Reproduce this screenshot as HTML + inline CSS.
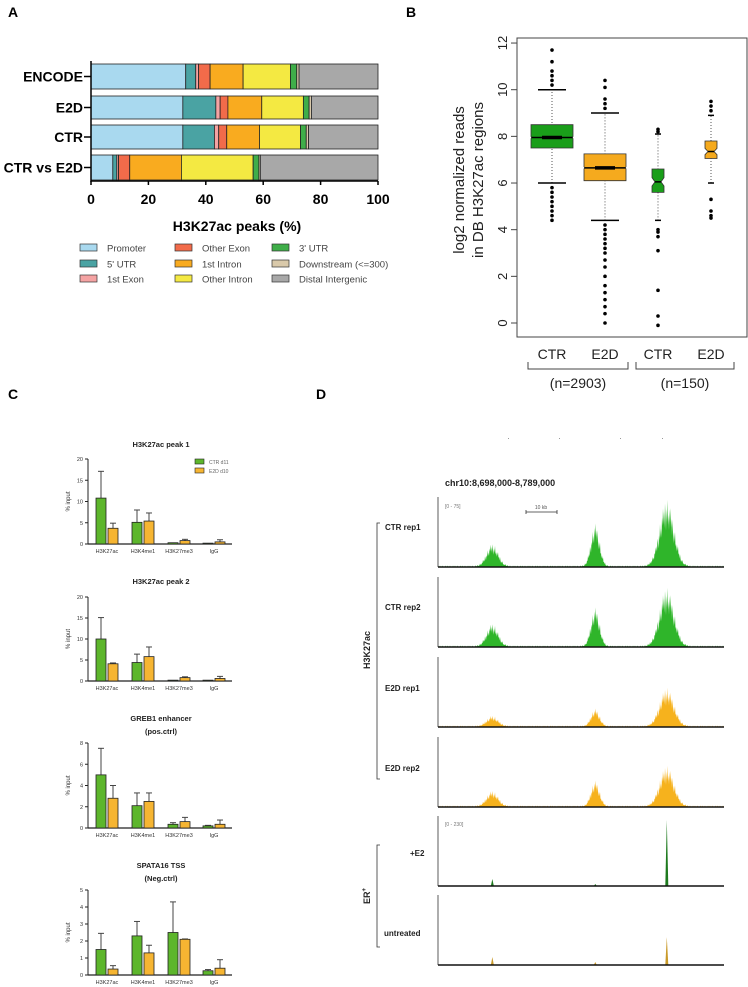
<!DOCTYPE html>
<html><head><meta charset="utf-8"><style>
body{margin:0;background:#fff;}
svg{display:block;font-family:"Liberation Sans",sans-serif;}
</style></head><body>
<svg id="fig" width="748" height="987" viewBox="0 0 748 987" xmlns="http://www.w3.org/2000/svg">
<g id="pa"></g>
<g id="pb"></g>
<g id="pc"></g>
<g id="pd"></g>
</svg>
<script>
// ---------- Panel A data ----------
const aCategories = ["ENCODE","E2D","CTR","CTR vs E2D"];
const aFeatures = ["Promoter","5' UTR","1st Exon","Other Exon","1st Intron","Other Intron","3' UTR","Downstream (<=300)","Distal Intergenic"];
const aEncode = [33,3.5,1,4,11.5,16.5,2.2,0.8,27.5];
const aE2D = [32,11.5,1.5,2.7,11.8,14.5,2,0.8,23.2];
const aCTR = [32,11,1.5,2.8,11.4,14.3,2,0.8,24.2];
const aCTRvsE2D = [7.6,1.4,0.6,3.9,18,25,2,0.5,41];
const aTicks = [0,20,40,60,80,100];
// ---------- Panel B data ----------
const bGroups = ["CTR","E2D","CTR","E2D"];
const bQ1 = [7.5,6.1,5.6,7.05];
const bMed = [7.95,6.65,6.05,7.35];
const bQ3 = [8.5,7.25,6.6,7.8];
const bWlo = [6,4.4,4.4,6];
const bWhi = [10,9,8.1,8.9];
const bOutliers = [
 [4.4,4.6,4.8,5.0,5.2,5.4,5.6,5.8,10.2,10.4,10.6,10.8,11.2,11.7],
 [0,0.4,0.7,1.0,1.3,1.6,2.0,2.4,2.7,3.0,3.2,3.4,3.6,3.8,4.0,4.2,9.2,9.4,9.6,10.1,10.4],
 [-0.1,0.3,1.4,3.1,3.7,3.9,4.0,8.2,8.3],
 [4.5,4.6,4.8,5.3,9.1,9.3,9.5]
];
const bTicks = [0,2,4,6,8,10,12];
// ---------- Panel C data ----------
const cTargets = ["H3K27ac","H3K4me1","H3K27me3","IgG"];
const cTitles = [["H3K27ac peak 1"],["H3K27ac peak 2"],["GREB1 enhancer","(pos.ctrl)"],["SPATA16 TSS","(Neg.ctrl)"]];
const cMax = [20,20,8,5];
const cStep = [5,5,2,1];
const cCtr = [[10.8,5.1,0.3,0.2],[10,4.4,0.2,0.2],[5,2.1,0.35,0.2],[1.5,2.3,2.5,0.25]];
const cCtrErr = [[17.1,8,0.3,0.2],[15.1,6.4,0.2,0.2],[7.5,3.3,0.5,0.25],[2.45,3.15,4.3,0.32]];
const cE2d = [[3.7,5.4,0.8,0.5],[4.1,5.8,0.8,0.6],[2.8,2.5,0.6,0.35],[0.35,1.3,2.1,0.4]];
const cE2dErr = [[4.9,7.3,1.1,1.0],[4.3,8.1,1.0,1.1],[4,3.3,1.0,0.75],[0.55,1.75,2.12,0.9]];
// ---------- Panel D data ----------
const dTracks = ["CTR rep1","CTR rep2","E2D rep1","E2D rep2","+E2","untreated"];
const dPeakPos = [0.19,0.55,0.80];
const dPeakH = [[22,42,66],[22,38,58],[10,17,38],[15,25,40],[7,2,66],[8,3,28]];
const dPeakW = [[8,6,10],[8,6,10],[8,6,10],[8,6,10],[1,1,1.2],[1,1,1.2]];

const NS="http://www.w3.org/2000/svg";
function mk(parent,tag,attrs,text){const e=document.createElementNS(NS,tag);for(const k in attrs)e.setAttribute(k,attrs[k]);if(text!==undefined)e.textContent=text;parent.appendChild(e);return e;}

// ===== Panel A =====
(function(){
const g=document.getElementById('pa');
const t=mk(g,'text',{x:8,y:17,'font-size':14,'font-weight':'bold'},'A');


const colors=["#a9d9ef","#4aa3a3","#f5a3a3","#f26b4a","#f9ab1f","#f4e942","#3fae49","#d9c9aa","#a8a8a8"];
const x=v=>91+v*2.87;
const rows=[aEncode,aE2D,aCTR,aCTRvsE2D];
const ys=[64,96,125,155], hs=[25,23,24,25];
rows.forEach((r,i)=>{
 let c=0;
 r.forEach((v,j)=>{
  const rc=mk(g,'rect',{x:x(c),y:ys[i],width:x(c+v)-x(c),height:hs[i],fill:colors[j],stroke:'#222','stroke-width':0.8});
  
  
  c+=v;
 });
 const lb=mk(g,'text',{x:83,y:ys[i]+hs[i]/2+5,'text-anchor':'end','font-size':14,'font-weight':'bold'},aCategories[i]);
 
 
 mk(g,'line',{x1:84,x2:91,y1:ys[i]+hs[i]/2,y2:ys[i]+hs[i]/2,stroke:'#000','stroke-width':1.5});
});
mk(g,'line',{x1:91,x2:91,y1:61,y2:182,stroke:'#000','stroke-width':1.5});
mk(g,'line',{x1:91,x2:378,y1:181,y2:181,stroke:'#000','stroke-width':1.5});
aTicks.forEach(v=>{
 mk(g,'line',{x1:x(v),x2:x(v),y1:181,y2:185,stroke:'#000','stroke-width':1.5});
 const tl=mk(g,'text',{x:x(v),y:204,'text-anchor':'middle','font-size':14,'font-weight':'bold'},v);
 
 
});
const xt=mk(g,'text',{x:237,y:231,'text-anchor':'middle','font-size':14,'font-weight':'bold'},'H3K27ac peaks (%)');


aFeatures.forEach((f,i)=>{
 const col=Math.floor(i/3),row=i%3;
 const lx=[80,175,272][col], ly=[248,264,279][row];
 const le=mk(g,'g',{});
 
 
 mk(le,'rect',{x:lx,y:ly-4,width:17,height:7,fill:colors[i],stroke:'#333','stroke-width':0.7});
 mk(le,'text',{x:lx+27,y:ly+3.5,'font-size':9.5,fill:'#444'},f);
});
})();

// ===== Panel B =====
(function(){
const g=document.getElementById('pb');
const t=mk(g,'text',{x:406,y:17,'font-size':14,'font-weight':'bold'},'B');


const y=v=>323-v*23.33;
const xs=[552,605,658,711], bw=[42,42,12,12];
mk(g,'rect',{x:517,y:38,width:230,height:299,fill:'none',stroke:'#444','stroke-width':1});
mk(g,'line',{x1:517,x2:517,y1:y(0),y2:y(12),stroke:'#444'});
bTicks.forEach(v=>{
 mk(g,'line',{x1:511,x2:517,y1:y(v),y2:y(v),stroke:'#444'});
 const tl=mk(g,'text',{transform:`translate(507,${y(v)}) rotate(-90)`,'text-anchor':'middle','font-size':13,fill:'#222'},v);
 
 
});
const yt=mk(g,'text',{transform:'translate(464,180) rotate(-90)','text-anchor':'middle','font-size':15,fill:'#222'});


mk(yt,'tspan',{x:0,dy:0},'log2 normalized reads');
mk(yt,'tspan',{x:0,dy:19},'in DB H3K27ac regions');
const cols=["#1a9e1a","#f5aa1e","#1a9e1a","#f5aa1e"];
bGroups.forEach((n,i)=>{
 const cx=xs[i];
 const bx=mk(g,'g',{});
 
 
 mk(bx,'line',{x1:cx,x2:cx,y1:y(bWlo[i]),y2:y(bWhi[i]),stroke:'#555','stroke-dasharray':'1,2'});
 const ww=i<2?28:6;
 mk(bx,'line',{x1:cx-ww/2,x2:cx+ww/2,y1:y(bWlo[i]),y2:y(bWlo[i]),stroke:'#000','stroke-width':1.5});
 mk(bx,'line',{x1:cx-ww/2,x2:cx+ww/2,y1:y(bWhi[i]),y2:y(bWhi[i]),stroke:'#000','stroke-width':1.5});
 const h=bw[i]/2, n2=i<2?h*0.97:h*0.5, nd=i<2?0.05:(bQ3[i]-bQ1[i])*0.18;
 const pts=[[cx-h,y(bQ3[i])],[cx+h,y(bQ3[i])],[cx+h,y(bMed[i]+nd)],[cx+n2,y(bMed[i])],[cx+h,y(bMed[i]-nd)],[cx+h,y(bQ1[i])],[cx-h,y(bQ1[i])],[cx-h,y(bMed[i]-nd)],[cx-n2,y(bMed[i])],[cx-h,y(bMed[i]+nd)]];
 mk(bx,'polygon',{points:pts.map(p=>p.join(',')).join(' '),fill:cols[i],stroke:'#333','stroke-width':0.8});
 mk(bx,'line',{x1:cx-n2,x2:cx+n2,y1:y(bMed[i]),y2:y(bMed[i]),stroke:'#000','stroke-width':1.5});
 if(i<2) mk(bx,'line',{x1:cx-10,x2:cx+10,y1:y(bMed[i]),y2:y(bMed[i]),stroke:'#000','stroke-width':3.5});
 bOutliers[i].forEach(v=>{
  const d=mk(bx,'circle',{cx:cx,cy:y(v),r:1.8,fill:'#000'});
  
  
 });
 const xl=mk(g,'text',{x:cx,y:359,'text-anchor':'middle','font-size':14,fill:'#222'},n);
 
 
});
[[528,628,'(n=2903)'],[636,734,'(n=150)']].forEach(b=>{
 mk(g,'path',{d:`M${b[0]},362 V369 H${b[1]} V362`,fill:'none',stroke:'#444'});
 const nl=mk(g,'text',{x:(b[0]+b[1])/2,y:388,'text-anchor':'middle','font-size':14,fill:'#222'},b[2]);
 
 
});
})();

// ===== Panel C =====
(function(){
const g=document.getElementById('pc');
const t=mk(g,'text',{x:8,y:399,'font-size':14,'font-weight':'bold'},'C');


const tops=[459,597,743,890], zeros=[544,681,828,975];
const titleY=[[447],[584],[721,734],[868,881]];
const gx=[107,143,179,214];
cTitles.forEach((tt,k)=>{
 const ch=mk(g,'g',{});
 
 
 const y=v=>zeros[k]-v/cMax[k]*(zeros[k]-tops[k]);
 tt.forEach((s,j)=>mk(ch,'text',{x:161,y:titleY[k][j],'text-anchor':'middle','font-size':7.5,'font-weight':'bold',fill:'#222'},s));
 mk(ch,'line',{x1:88,x2:88,y1:tops[k],y2:zeros[k],stroke:'#222'});
 mk(ch,'line',{x1:88,x2:232,y1:zeros[k],y2:zeros[k],stroke:'#222','stroke-width':1.2});
 for(let v=0;v<=cMax[k];v+=cStep[k]){
  mk(ch,'line',{x1:85,x2:88,y1:y(v),y2:y(v),stroke:'#222'});
  mk(ch,'text',{x:83,y:y(v)+2,'text-anchor':'end','font-size':5.5,fill:'#333'},v);
 }
 mk(ch,'text',{transform:`translate(70,${(tops[k]+zeros[k])/2}) rotate(-90)`,'text-anchor':'middle','font-size':6,fill:'#333'},'% input');
 cTargets.forEach((n,i)=>{
  [[cCtr,cCtrErr,'#5db62c',-6],[cE2d,cE2dErr,'#f6b532',6]].forEach(s=>{
   const cx=gx[i]+s[3], v=s[0][k][i], e=s[1][k][i];
   if(e>v){mk(ch,'line',{x1:cx,x2:cx,y1:y(e),y2:y(v),stroke:'#444'});mk(ch,'line',{x1:cx-3,x2:cx+3,y1:y(e),y2:y(e),stroke:'#444'});}
   const b=mk(ch,'rect',{x:cx-5,y:y(v),width:10,height:zeros[k]-y(v),fill:s[2],stroke:'#222','stroke-width':0.8});
   
   
  });
  mk(ch,'text',{x:gx[i],y:zeros[k]+9,'text-anchor':'middle','font-size':5.5,fill:'#333'},n);
 });
});
[['#5db62c','CTR d11',461],['#f6b532','E2D d10',470]].forEach(l=>{
 const le=mk(g,'g',{});
 
 
 mk(le,'rect',{x:195,y:l[2]-2,width:9,height:5,fill:l[0],stroke:'#222','stroke-width':0.6});
 mk(le,'text',{x:209,y:l[2]+3,'font-size':5,fill:'#666'},l[1]);
});
})();

// ===== Panel D =====
(function(){
const g=document.getElementById('pd');
const t=mk(g,'text',{x:316,y:399,'font-size':14,'font-weight':'bold'},'D');


[508,559,620,662].forEach(x=>mk(g,'rect',{x:x,y:438,width:1,height:1,fill:'#999'}));
const ti=mk(g,'text',{x:445,y:486,'font-size':9,'font-weight':'bold',fill:'#222'},'chr10:8,698,000-8,789,000');


mk(g,'text',{x:445,y:508,'font-size':5,fill:'#777'},'[0 - 75]');
mk(g,'text',{x:445,y:826,'font-size':5,fill:'#777'},'[0 - 230]');
mk(g,'path',{d:'M526,512 H557 M526,510 V514 M557,510 V514',stroke:'#333','stroke-width':0.8});
mk(g,'text',{x:541,y:509,'text-anchor':'middle','font-size':5,fill:'#555'},'10 kb');
const bases=[567,647,727,807,886,965];
const lx0=438,lx1=724,W=lx1-lx0;
const jag=[1,0.55,0.85,0.4,0.95,0.65,0.3,0.8,0.5,1,0.45,0.7,0.35,0.9,0.6];
const labelY=[530,610,691,771,856,936];
dTracks.forEach((n,k)=>{
 const tr=mk(g,'g',{});
 
 
 const b=bases[k];
 const col=k<2?'#2fb52a':k<4?'#f6b21d':null;
 let d=`M${lx0},${b}`;
 for(let px=0;px<=W;px+=0.5){
  let h=0;
  dPeakPos.forEach((p,j)=>{const dx=(px-p*W)/dPeakW[k][j];h+=dPeakH[k][j]*Math.exp(-dx*dx);});
  const jj=jag[Math.floor(px*2)%jag.length];
  if(k<4) h=h*(0.35+0.65*jj)+ (jj>0.9?1.5:0.4);
  d+=` L${lx0+px},${b-h}`;
 }
 d+=` L${lx1},${b} Z`;
 if(k<4) mk(tr,'path',{d:d,fill:col,stroke:'none'});
 else {
  dPeakPos.forEach((p,j)=>{
   const cx=lx0+p*W, h=dPeakH[k][j];
   mk(tr,'polygon',{points:`${cx-1.5},${b} ${cx},${b-h} ${cx+1.5},${b}`,fill:k===4?'#1e7a1e':'#c99a2a'});
  });
 }
 mk(tr,'line',{x1:lx0,x2:lx0,y1:b-70,y2:b,stroke:'#333','stroke-width':0.8});
 mk(tr,'line',{x1:lx0,x2:lx1,y1:b,y2:b,stroke:'#111','stroke-width':1.5});
 mk(tr,'text',{x:k===4?410:k===5?384:385,y:labelY[k],'font-size':8,'font-weight':'bold',fill:'#222'},n);
});
mk(g,'path',{d:'M380,523 H377 V779 H380',fill:'none',stroke:'#333','stroke-width':0.8});
mk(g,'path',{d:'M380,845 H377 V947 H380',fill:'none',stroke:'#333','stroke-width':0.8});
const h3=mk(g,'text',{transform:'translate(370,650) rotate(-90)','text-anchor':'middle','font-size':9,'font-weight':'bold',fill:'#222'},'H3K27ac');


const er=mk(g,'text',{transform:'translate(370,896) rotate(-90)','text-anchor':'middle','font-size':9,'font-weight':'bold',fill:'#222'});


er.textContent='ER';
mk(er,'tspan',{'font-size':6,dy:-4},'+');
})();
</script>
</body></html>
